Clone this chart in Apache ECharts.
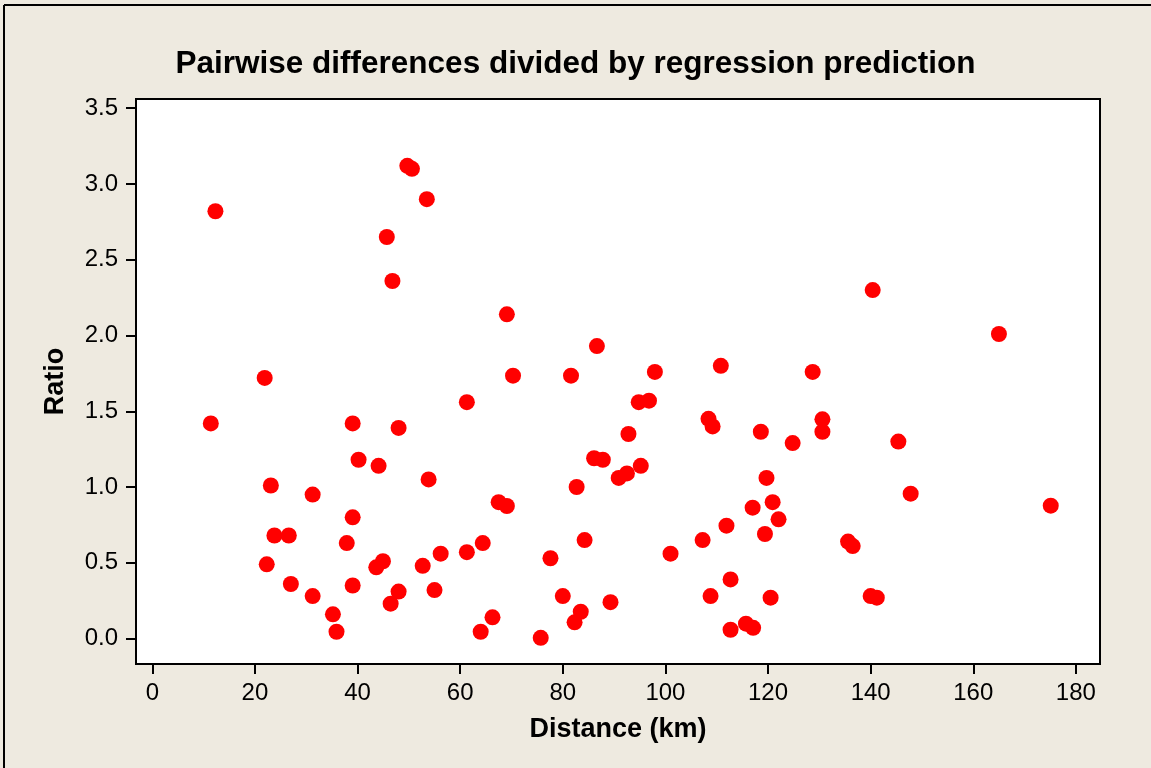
<!DOCTYPE html>
<html>
<head>
<meta charset="utf-8">
<title>Pairwise differences divided by regression prediction</title>
<script src="https://cdn.jsdelivr.net/npm/echarts@6/dist/echarts.min.js"></script>
<style>
  html, body { margin: 0; padding: 0; background: #EEEAE0; }
  #chart { width: 1151px; height: 768px; }
</style>
</head>
<body>
<div id="chart"></div>
<script>
// Pairwise distance (km) and the ratio of observed difference to regression prediction
const distanceKm = [
  11.4, 12.3, 21.9, 22.3, 23.1, 23.8, 26.6, 27.0, 31.25, 31.25,
  35.2, 35.9, 37.9, 39.05, 39.05, 39.05, 40.2, 43.65, 44.1, 44.95,
  45.7, 46.45, 46.8, 48.0, 48.0, 49.7, 50.6, 52.7, 53.5, 53.85,
  55.0, 56.2, 61.3, 61.3, 64.0, 64.4, 66.3, 67.5, 69.1, 69.1,
  70.3, 75.7, 77.6, 80.0, 81.6, 82.3, 82.7, 83.5, 84.25, 86.1,
  86.65, 87.8, 89.3, 90.9, 92.5, 92.8, 94.8, 95.2, 96.8, 97.95,
  101.0, 107.25, 108.4, 108.8, 109.2, 110.8, 111.9, 112.7, 112.7, 115.7,
  117.0, 117.1, 118.6, 119.4, 119.7, 120.5, 120.9, 122.05, 124.8, 128.7,
  130.6, 130.6, 135.6, 136.5, 140.0, 140.4, 141.2, 145.4, 147.8, 165.0,
  175.1
];
const ratio = [
  1.42, 2.82, 1.72, 0.49, 1.01, 0.68, 0.68, 0.36, 0.95, 0.28,
  0.16, 0.045, 0.63, 1.42, 0.80, 0.35, 1.18, 0.47, 1.14, 0.51,
  2.65, 0.23, 2.36, 1.39, 0.31, 3.12, 3.10, 0.48, 2.90, 1.05,
  0.32, 0.56, 1.56, 0.57, 0.045, 0.63, 0.14, 0.90, 0.875, 2.14,
  1.735, 0.005, 0.53, 0.28, 1.735, 0.107, 1.00, 0.177, 0.65, 1.19,
  1.93, 1.18, 0.24, 1.06, 1.09, 1.35, 1.56, 1.14, 1.57, 1.76,
  0.56, 0.65, 1.45, 0.28, 1.40, 1.80, 0.745, 0.39, 0.058, 0.098,
  0.864, 0.071, 1.365, 0.69, 1.06, 0.27, 0.90, 0.787, 1.29, 1.76,
  1.447, 1.365, 0.64, 0.61, 0.28, 2.30, 0.27, 1.30, 0.956, 2.01,
  0.877
];

// Tick positions on each axis
const xTicks = [0, 20, 40, 60, 80, 100, 120, 140, 160, 180];
const yTicks = [0, 0.5, 1.0, 1.5, 2.0, 2.5, 3.0, 3.5];

const points = distanceKm.map((d, i) => [d, ratio[i]]);

const FONT = 'Liberation Sans';
const chart = echarts.init(document.getElementById('chart'), null, { renderer: 'canvas' });

chart.setOption({
  backgroundColor: '#EEEAE0',
  animation: false,
  title: {
    text: 'Pairwise differences divided by regression prediction',
    left: 'center',
    top: 43,
    textStyle: { fontFamily: FONT, fontWeight: 'bold', fontSize: 31.5, color: '#000' }
  },
  graphic: [
    { type: 'line', shape: { x1: 4, y1: 5, x2: 4, y2: 768 }, style: { stroke: '#000', lineWidth: 2 } },
    { type: 'line', shape: { x1: 4, y1: 5, x2: 1151, y2: 5 }, style: { stroke: '#000', lineWidth: 2 } }
  ],
  grid: {
    left: 136, top: 99, right: 51, bottom: 104,
    show: true, backgroundColor: '#FFFFFF', borderColor: '#000', borderWidth: 2
  },
  xAxis: {
    type: 'value',
    min: -3.18, max: 184.7,
    name: 'Distance (km)',
    nameLocation: 'middle',
    nameGap: 52,
    nameTextStyle: { fontFamily: FONT, fontWeight: 'bold', fontSize: 27, color: '#000' },
    axisLine: { show: false, onZero: false },
    splitLine: { show: false },
    axisTick: { show: true, inside: false, length: 10, lineStyle: { color: '#000', width: 2 }, customValues: xTicks },
    axisLabel: { fontFamily: FONT, fontSize: 24, color: '#000', margin: 17, customValues: xTicks,
      formatter: v => String(v) }
  },
  yAxis: {
    type: 'value',
    min: -0.168, max: 3.561,
    name: 'Ratio',
    nameLocation: 'middle',
    nameGap: 67,
    nameTextStyle: { fontFamily: FONT, fontWeight: 'bold', fontSize: 27, color: '#000' },
    axisLine: { show: false, onZero: false },
    splitLine: { show: false },
    axisTick: { show: true, inside: false, length: 10, lineStyle: { color: '#000', width: 2 }, customValues: yTicks },
    axisLabel: { fontFamily: FONT, fontSize: 24, color: '#000', margin: 18, customValues: yTicks,
      formatter: v => v.toFixed(1) }
  },
  series: [{
    type: 'scatter',
    data: points,
    symbol: 'circle',
    symbolSize: 16,
    itemStyle: { color: '#FF0000', opacity: 1 }
  }]
});
</script>
</body>
</html>
